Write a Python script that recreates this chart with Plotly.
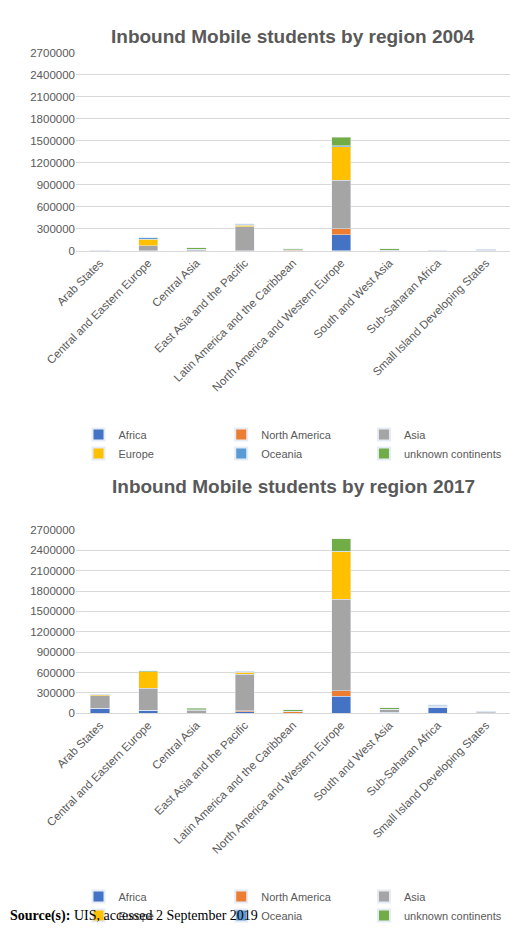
import plotly.graph_objects as go

regions = ["Arab States","Central and Eastern Europe","Central Asia","East Asia and the Pacific",
           "Latin America and the Caribbean","North America and Western Europe","South and West Asia",
           "Sub-Saharan Africa","Small Island Developing States"]
series = ["Africa","North America","Asia","Europe","Oceania","unknown continents"]
colors = ["#4472C4","#ED7D31","#A5A5A5","#FFC000","#5B9BD5","#70AD47"]

v2004 = {
 "Africa":             [0, 0, 0, 0, 0, 220000, 0, 0, 0],
 "North America":      [0, 0, 0, 0, 10000, 80000, 0, 0, 0],
 "Asia":               [0, 70000, 20000, 330000, 5000, 660000, 10000, 0, 5000],
 "Europe":             [0, 90000, 0, 20000, 0, 460000, 0, 0, 0],
 "Oceania":            [0, 20000, 0, 10000, 0, 10000, 0, 0, 15000],
 "unknown continents": [0, 0, 20000, 10000, 15000, 120000, 20000, 0, 0],
}
v2017 = {
 "Africa":             [70000, 40000, 0, 20000, 0, 250000, 10000, 90000, 5000],
 "North America":      [0, 0, 0, 15000, 20000, 80000, 0, 0, 0],
 "Asia":               [190000, 330000, 40000, 540000, 5000, 1350000, 50000, 10000, 15000],
 "Europe":             [10000, 240000, 10000, 25000, 0, 700000, 0, 0, 0],
 "Oceania":            [10000, 0, 0, 15000, 0, 10000, 0, 15000, 10000],
 "unknown continents": [0, 15000, 20000, 0, 25000, 180000, 20000, 10000, 0],
}
ticks = list(range(0, 2700001, 300000))

fig = go.Figure()
for s, c in zip(series, colors):
    fig.add_bar(x=regions, y=v2004[s], name=s, marker_color=c, xaxis="x", yaxis="y", legend="legend")
    fig.add_bar(x=regions, y=v2017[s], name=s, marker_color=c, xaxis="x2", yaxis="y2", legend="legend2")

ax = dict(tickangle=-45, tickfont=dict(family="Liberation Sans", size=11.5, color="#595959"),
          showline=True, linecolor="#D9D9D9", ticks="", automargin=False)
ay = dict(range=[0, 2700000], tickvals=ticks, tickformat="d", gridcolor="#D9D9D9", automargin=False,
          tickfont=dict(family="Liberation Sans", size=11.5, color="#595959"), zeroline=False)
lg = dict(orientation="h", x=0.5, xanchor="center", yanchor="middle", traceorder="normal",
          font=dict(family="Liberation Sans", size=11, color="#595959"), itemwidth=30,
          entrywidthmode="pixels", itemsizing="constant", bgcolor="rgba(0,0,0,0)")
fig.update_layout(
    barmode="stack", bargap=0.6, width=520, height=934, plot_bgcolor="white", paper_bgcolor="white",
    margin=dict(l=68, r=18, t=0, b=0, autoexpand=False),
    xaxis=dict(domain=[0, 1], anchor="y", **ax),
    yaxis=dict(domain=[0.740, 0.952], anchor="x", **ay),
    xaxis2=dict(domain=[0, 1], anchor="y2", **ax),
    yaxis2=dict(domain=[0.245, 0.441], anchor="x2", **ay),
    legend=dict(y=1-436/934, **lg),
    legend2=dict(y=1-898/934, **lg),
    showlegend=True,
    annotations=[
        dict(text="<b>Inbound Mobile students by region 2004</b>", x=0.5, xref="paper", y=1-16/934, yref="paper",
             showarrow=False, font=dict(family="Liberation Sans", size=19, color="#595959")),
        dict(text="<b>Inbound Mobile students by region 2017</b>", x=0.5, xref="paper", y=1-478/934, yref="paper",
             showarrow=False, font=dict(family="Liberation Sans", size=19, color="#595959")),
        dict(text="<b>Source(s):</b> UIS, accessed 2 September 2019", x=-68/434, xref="paper", xanchor="left",
             y=1-918/934, yref="paper", showarrow=False,
             font=dict(family="Liberation Serif", size=14, color="black")),
    ],
)
fig.write_html("out.html")
